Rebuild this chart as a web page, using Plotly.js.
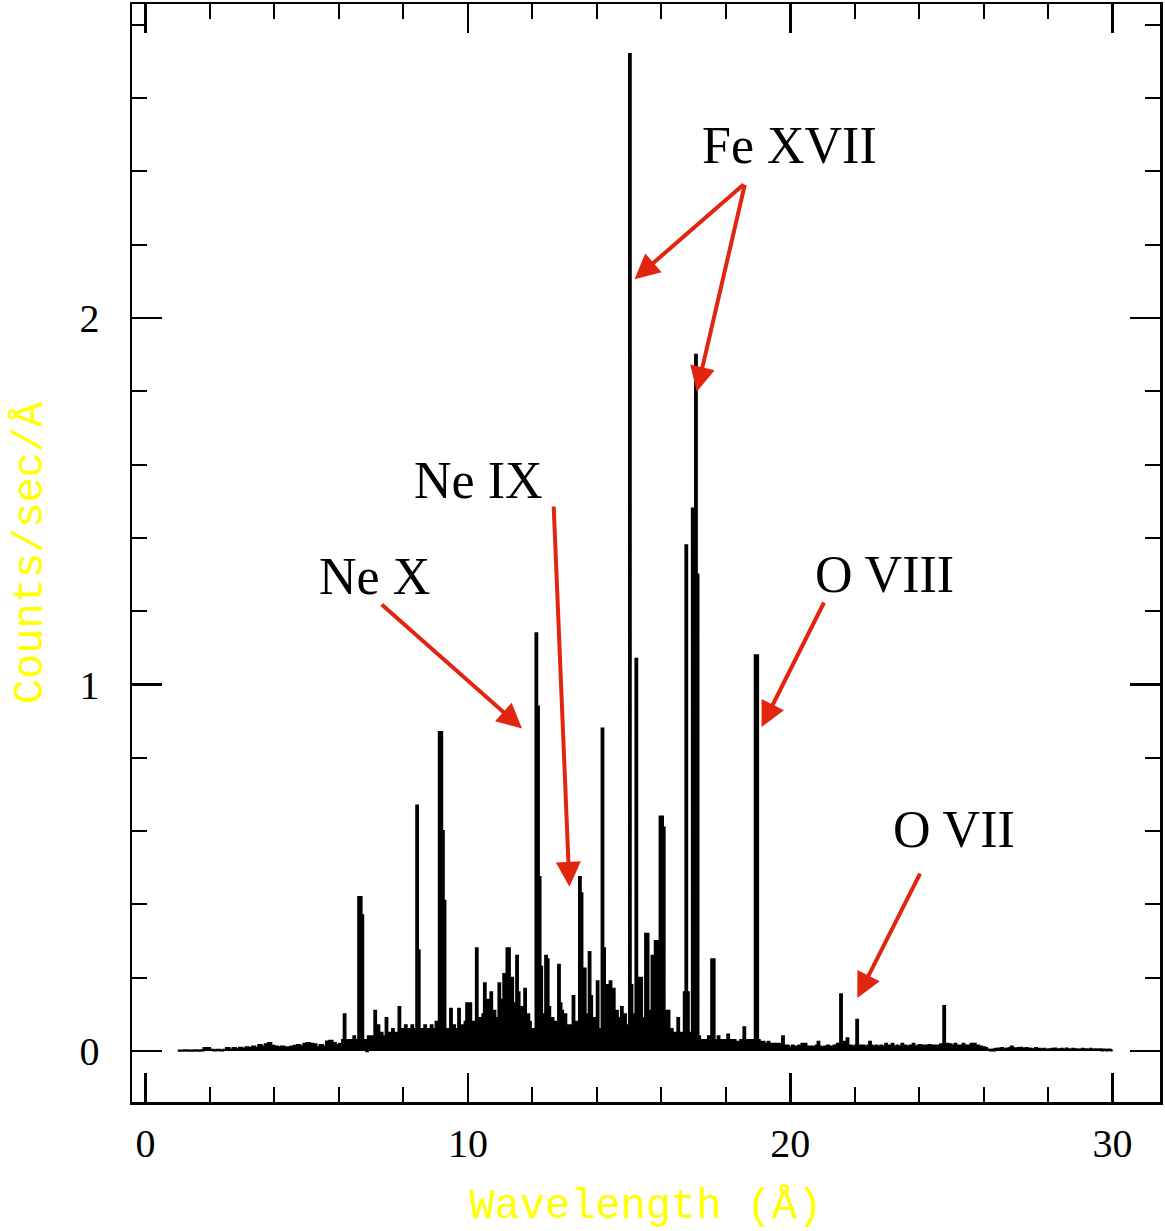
<!DOCTYPE html>
<html>
<head>
<meta charset="utf-8">
<script src="https://cdn.plot.ly/plotly-3.0.1.min.js"></script>
<style>html,body{margin:0;padding:0;background:#fff;}</style>
</head>
<body>
<div id="chart" style="width:1165px;height:1231px;"></div>
<script>
// Spectrum counts (Counts/sec/Å).
// 1.0 – 5.9 Å, bins of 0.1 Å
const lowStart = 1.0, lowStep = 0.1;
const countsLow = [
  0.001,0.001,0.002,0.001,0.001,0.002,0.001,0.002,0.008,0.008,
  0.003,0.002,0.003,0.002,0.003,0.008,0.004,0.008,0.005,0.009,
  0.006,0.010,0.008,0.012,0.009,0.016,0.012,0.018,0.022,0.014,
  0.012,0.010,0.012,0.010,0.010,0.012,0.014,0.016,0.012,0.020,
  0.022,0.020,0.018,0.010,0.016,0.012,0.026,0.028,0.022,0.016
];
// 0.05 Å bins from the start of each segment
const binStep = 0.05;
const segStarts = [6, 10, 14, 18, 22, 26];
const counts06 = [
  0.02,0.01,0.03,0.10,0.02,0.03,0.01,0.03,0.02,0.04,0.01,0.03,0.42,0.42,0.37,0.01,0.03,0.00,0.04,0.02,
  0.04,0.03,0.11,0.04,0.07,0.03,0.05,0.03,0.04,0.09,0.04,0.05,0.03,0.06,0.04,0.05,0.03,0.12,0.05,0.06,
  0.05,0.07,0.04,0.06,0.05,0.07,0.04,0.06,0.67,0.275,0.04,0.06,0.05,0.07,0.04,0.06,0.05,0.07,0.04,0.06,
  0.08,0.04,0.87,0.87,0.60,0.41,0.06,0.04,0.06,0.115,0.05,0.07,0.04,0.06,0.115,0.05,0.07,0.04,0.08,0.13
];
const counts10 = [
  0.06,0.13,0.05,0.08,0.05,0.28,0.06,0.09,0.05,0.10,0.185,0.06,0.14,0.07,0.16,0.06,0.11,0.05,0.09,0.185,
  0.07,0.14,0.21,0.09,0.28,0.28,0.10,0.20,0.08,0.13,0.26,0.16,0.07,0.12,0.06,0.17,0.07,0.10,0.08,0.05,
  0.06,0.04,1.14,0.94,0.475,0.23,0.10,0.07,0.26,0.25,0.12,0.06,0.09,0.05,0.08,0.06,0.235,0.13,0.11,0.06,
  0.10,0.05,0.07,0.04,0.07,0.15,0.05,0.08,0.05,0.475,0.43,0.08,0.225,0.06,0.10,0.27,0.15,0.06,0.09,0.07
];
const counts14 = [
  0.19,0.05,0.06,0.88,0.28,0.08,0.18,0.06,0.19,0.07,0.17,0.05,0.11,0.05,0.09,0.12,0.05,0.10,0.05,0.07,
  2.72,0.18,0.06,0.10,1.07,0.20,0.07,0.20,0.05,0.09,0.32,0.32,0.11,0.06,0.26,0.26,0.30,0.30,0.08,0.64,
  0.64,0.61,0.11,0.04,0.11,0.05,0.06,0.03,0.05,0.04,0.09,0.03,0.05,0.04,0.16,1.38,0.16,0.03,0.05,1.48,
  1.48,1.90,1.30,0.04,0.02,0.03,0.02,0.03,0.02,0.04,0.03,0.25,0.25,0.03,0.02,0.04,0.02,0.03,0.02,0.03
];
const counts18 = [
  0.03,0.045,0.02,0.03,0.02,0.03,0.02,0.025,0.02,0.03,0.02,0.065,0.02,0.03,0.02,0.03,0.02,0.03,1.08,1.08,
  0.03,0.025,0.02,0.025,0.02,0.02,0.025,0.02,0.015,0.02,0.015,0.02,0.015,0.02,0.015,0.04,0.015,0.01,0.015,0.01,
  0.01,0.015,0.01,0.012,0.01,0.015,0.012,0.02,0.01,0.02,0.01,0.012,0.01,0.012,0.01,0.012,0.015,0.025,0.012,0.01,
  0.01,0.012,0.01,0.015,0.01,0.012,0.01,0.015,0.01,0.02,0.012,0.155,0.015,0.025,0.02,0.035,0.01,0.015,0.01,0.012
];
const counts22 = [
  0.015,0.085,0.012,0.015,0.01,0.015,0.012,0.01,0.015,0.025,0.015,0.012,0.01,0.015,0.012,0.01,0.015,0.012,0.01,0.02,
  0.01,0.015,0.012,0.02,0.01,0.012,0.015,0.01,0.012,0.02,0.01,0.015,0.012,0.01,0.015,0.012,0.02,0.01,0.012,0.015,
  0.016,0.012,0.015,0.01,0.015,0.012,0.016,0.012,0.015,0.01,0.015,0.012,0.015,0.018,0.015,0.123,0.015,0.02,0.012,0.018,
  0.015,0.012,0.02,0.012,0.015,0.01,0.015,0.02,0.012,0.015,0.01,0.015,0.02,0.015,0.02,0.012,0.015,0.01,0.012,0.01
];
const counts26 = [
  0.01,0.008,0.004,0.003,0.002,0.004,0.002,0.006,0.004,0.007,0.005,0.008,0.005,0.004,0.007,0.005,0.009,0.012,0.008,0.006,
  0.005,0.008,0.004,0.009,0.006,0.005,0.008,0.004,0.007,0.006,0.004,0.005,0.008,0.004,0.006,0.005,0.003,0.006,0.004,0.003,
  0.005,0.003,0.006,0.004,0.007,0.003,0.005,0.004,0.006,0.003,0.004,0.007,0.005,0.003,0.004,0.006,0.003,0.005,0.004,0.003,
  0.004,0.006,0.003,0.005,0.004,0.003,0.006,0.004,0.003,0.005,0.004,0.003,0.005,0.002,0.004,0.003,0.002,0.004,0.003,0.002
];
const spectrumEnd = 30.0;

// Line labels and arrows
const lineLabels = ['Fe XVII', 'Ne IX', 'Ne X', 'O VIII', 'O VII'];
const labelX = [19.97, 10.34, 7.09, 22.91, 25.09];
const labelY = [2.472, 1.557, 1.294, 1.299, 0.604];
const arrowTipX  = [15.17, 17.10, 13.15, 11.68, 19.11, 22.08];
const arrowTipY  = [2.106, 1.799, 0.448, 0.880, 0.884, 0.145];
const arrowTailX = [18.60, 18.60, 12.66, 7.28, 21.07, 24.05];
const arrowTailY = [2.368, 2.368, 1.490, 1.222, 1.228, 0.488];

// ---- build the step series ----
const wl = [], cnt = [];
countsLow.forEach((v, i) => { wl.push(+(lowStart + lowStep * i).toFixed(3)); cnt.push(v); });
[counts06, counts10, counts14, counts18, counts22, counts26].forEach((arr, k) => {
  arr.forEach((v, i) => { wl.push(+(segStarts[k] + binStep * i).toFixed(3)); cnt.push(v); });
});
wl.push(spectrumEnd); cnt.push(cnt[cnt.length - 1]);

const trace = {
  x: wl, y: cnt, type: 'scatter', mode: 'lines',
  line: {color: '#000', width: 2.2, shape: 'hv', simplify: false},
  fill: 'tozeroy', fillcolor: '#000',
  hoverinfo: 'skip'
};

const red = '#e1250f';
const annotations = [];
lineLabels.forEach((t, i) => {
  annotations.push({
    x: labelX[i], y: labelY[i], xref: 'x', yref: 'y', text: t, showarrow: false,
    xanchor: 'center', yanchor: 'middle',
    font: {family: 'Liberation Serif, Times New Roman, serif', size: 52, color: '#000'}
  });
});
arrowTipX.forEach((ax, i) => {
  annotations.push({
    x: ax, y: arrowTipY[i], xref: 'x', yref: 'y',
    ax: arrowTailX[i], ay: arrowTailY[i], axref: 'x', ayref: 'y',
    text: '', showarrow: true, arrowhead: 2, arrowsize: 1.25, arrowwidth: 4,
    arrowcolor: red, standoff: 0
  });
});

const tickFont = {family: 'Liberation Serif, Times New Roman, serif', size: 40, color: '#000'};
const titleFont = {family: 'Liberation Mono, DejaVu Sans Mono, monospace', size: 42, color: '#ffff00'};

const layout = {
  width: 1165, height: 1231,
  margin: {l: 132, r: 5, t: 4, b: 129, pad: 0},
  paper_bgcolor: '#fff', plot_bgcolor: '#fff',
  showlegend: false,
  xaxis: {
    range: [-0.42, 31.47], tick0: 0, dtick: 10,
    ticks: 'inside', ticklen: 29, tickwidth: 2.5, tickcolor: '#000',
    minor: {dtick: 2, ticks: 'inside', ticklen: 15, tickwidth: 2, tickcolor: '#000'},
    showline: true, linewidth: 2.5, linecolor: '#000', mirror: 'ticks',
    showgrid: false, zeroline: false,
    tickfont: tickFont, ticklabelstandoff: 4,
    title: {text: 'Wavelength (Å)', font: titleFont, standoff: 24}
  },
  yaxis: {
    range: [-0.139, 2.857], tick0: 0, dtick: 1,
    ticks: 'inside', ticklen: 30, tickwidth: 2.5, tickcolor: '#000',
    minor: {dtick: 0.2, ticks: 'inside', ticklen: 15, tickwidth: 2, tickcolor: '#000'},
    showline: true, linewidth: 2.5, linecolor: '#000', mirror: 'ticks',
    showgrid: false, zeroline: false,
    tickfont: tickFont, ticklabelstandoff: 22,
    title: {text: 'Counts/sec/Å', font: titleFont, standoff: 24}
  },
  annotations: annotations
};

Plotly.newPlot('chart', [trace], layout, {displayModeBar: false, staticPlot: true});
</script>
</body>
</html>
